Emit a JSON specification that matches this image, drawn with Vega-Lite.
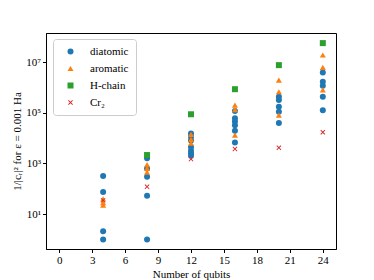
{
  "$schema": "https://vega.github.io/schema/vega-lite/v6.json",
  "width": 290,
  "height": 216,
  "autosize": {"type": "none"},
  "padding": {"left": 46, "top": 33, "right": 38, "bottom": 31},
  "background": "white",
  "config": {
    "font": "Liberation Serif",
    "view": {"stroke": "black", "strokeWidth": 1},
    "axis": {
      "labelFont": "Liberation Serif",
      "titleFont": "Liberation Serif",
      "labelFontSize": 11,
      "titleFontSize": 11,
      "titleFontWeight": "normal",
      "labelColor": "black",
      "titleColor": "black",
      "domainColor": "black",
      "tickColor": "black",
      "tickSize": 3.5,
      "grid": false
    },
    "legend": {
      "labelFont": "Liberation Serif",
      "labelFontSize": 11,
      "labelColor": "black"
    }
  },
  "data": {
    "values": [
      {"qubits": 4, "value": 316, "series": "diatomic"},
      {"qubits": 4, "value": 74, "series": "diatomic"},
      {"qubits": 4, "value": 2.09, "series": "diatomic"},
      {"qubits": 4, "value": 1.0, "series": "diatomic"},
      {"qubits": 8, "value": 1585, "series": "diatomic"},
      {"qubits": 8, "value": 631, "series": "diatomic"},
      {"qubits": 8, "value": 295, "series": "diatomic"},
      {"qubits": 8, "value": 52.5, "series": "diatomic"},
      {"qubits": 8, "value": 1.0, "series": "diatomic"},
      {"qubits": 12, "value": 15136, "series": "diatomic"},
      {"qubits": 12, "value": 11220, "series": "diatomic"},
      {"qubits": 12, "value": 7943, "series": "diatomic"},
      {"qubits": 12, "value": 4467, "series": "diatomic"},
      {"qubits": 12, "value": 3162, "series": "diatomic"},
      {"qubits": 12, "value": 2512, "series": "diatomic"},
      {"qubits": 12, "value": 1995, "series": "diatomic"},
      {"qubits": 16, "value": 117490, "series": "diatomic"},
      {"qubits": 16, "value": 60256, "series": "diatomic"},
      {"qubits": 16, "value": 44668, "series": "diatomic"},
      {"qubits": 16, "value": 32359, "series": "diatomic"},
      {"qubits": 16, "value": 19498, "series": "diatomic"},
      {"qubits": 16, "value": 6761, "series": "diatomic"},
      {"qubits": 20, "value": 426580, "series": "diatomic"},
      {"qubits": 20, "value": 316228, "series": "diatomic"},
      {"qubits": 20, "value": 173780, "series": "diatomic"},
      {"qubits": 20, "value": 109648, "series": "diatomic"},
      {"qubits": 20, "value": 39811, "series": "diatomic"},
      {"qubits": 24, "value": 3890451, "series": "diatomic"},
      {"qubits": 24, "value": 1659587, "series": "diatomic"},
      {"qubits": 24, "value": 1174898, "series": "diatomic"},
      {"qubits": 24, "value": 426580, "series": "diatomic"},
      {"qubits": 24, "value": 125893, "series": "diatomic"},
      {"qubits": 4, "value": 39.8, "series": "aromatic"},
      {"qubits": 4, "value": 28.2, "series": "aromatic"},
      {"qubits": 4, "value": 22.4, "series": "aromatic"},
      {"qubits": 8, "value": 891, "series": "aromatic"},
      {"qubits": 8, "value": 631, "series": "aromatic"},
      {"qubits": 8, "value": 447, "series": "aromatic"},
      {"qubits": 12, "value": 14125, "series": "aromatic"},
      {"qubits": 12, "value": 8913, "series": "aromatic"},
      {"qubits": 12, "value": 6310, "series": "aromatic"},
      {"qubits": 16, "value": 199526, "series": "aromatic"},
      {"qubits": 16, "value": 131826, "series": "aromatic"},
      {"qubits": 16, "value": 13183, "series": "aromatic"},
      {"qubits": 20, "value": 1949845, "series": "aromatic"},
      {"qubits": 20, "value": 676083, "series": "aromatic"},
      {"qubits": 20, "value": 81283, "series": "aromatic"},
      {"qubits": 24, "value": 19054607, "series": "aromatic"},
      {"qubits": 24, "value": 6165950, "series": "aromatic"},
      {"qubits": 24, "value": 794328, "series": "aromatic"},
      {"qubits": 8, "value": 2138, "series": "H-chain"},
      {"qubits": 12, "value": 87096, "series": "H-chain"},
      {"qubits": 16, "value": 851138, "series": "H-chain"},
      {"qubits": 20, "value": 7585776, "series": "H-chain"},
      {"qubits": 24, "value": 56234133, "series": "H-chain"},
      {"qubits": 4, "value": 34.7, "series": "Cr₂"},
      {"qubits": 8, "value": 120, "series": "Cr₂"},
      {"qubits": 12, "value": 1479, "series": "Cr₂"},
      {"qubits": 16, "value": 3715, "series": "Cr₂"},
      {"qubits": 20, "value": 4169, "series": "Cr₂"},
      {"qubits": 24, "value": 16982, "series": "Cr₂"}
    ]
  },
  "mark": {"type": "point", "filled": true, "opacity": 1, "size": 36},
  "encoding": {
    "x": {
      "field": "qubits",
      "type": "quantitative",
      "scale": {"domain": [-1.2, 25.2], "nice": false, "zero": false},
      "axis": {"values": [0, 3, 6, 9, 12, 15, 18, 21, 24], "title": "Number of qubits", "titlePadding": 3, "labelPadding": 2}
    },
    "y": {
      "field": "value",
      "type": "quantitative",
      "scale": {"type": "log", "domain": [0.417, 141000000], "nice": false},
      "axis": {
        "values": [10, 1000, 100000, 10000000],
        "labelExpr": "datum.value == 10 ? '10¹' : datum.value == 1000 ? '10³' : datum.value == 100000 ? '10⁵' : '10⁷'",
        "title": "1/|cᵣ|² for ε = 0.001 Ha",
        "titlePadding": 3,
        "labelPadding": 2
      }
    },
    "color": {
      "field": "series",
      "type": "nominal",
      "scale": {"domain": ["diatomic", "aromatic", "H-chain", "Cr₂"], "range": ["#1f77b4", "#ff7f0e", "#2ca02c", "#d62728"]},
      "legend": {
        "title": null,
        "orient": "none",
        "legendX": 7,
        "legendY": 6,
        "padding": 7,
        "symbolOffset": 5,
        "labelOffset": 14,
        "rowPadding": 5,
        "fillColor": "white",
        "strokeColor": "#cccccc",
        "cornerRadius": 3,
        "symbolSize": 36
      }
    },
    "shape": {
      "field": "series",
      "type": "nominal",
      "scale": {"domain": ["diatomic", "aromatic", "H-chain", "Cr₂"], "range": ["circle", "triangle-up", "square", "M-0.601,0.813L0,0.212L0.601,0.813L0.813,0.601L0.212,0L0.813,-0.601L0.601,-0.813L0,-0.212L-0.601,-0.813L-0.813,-0.601L-0.212,0L-0.813,0.601Z"]}
    }
  }
}
